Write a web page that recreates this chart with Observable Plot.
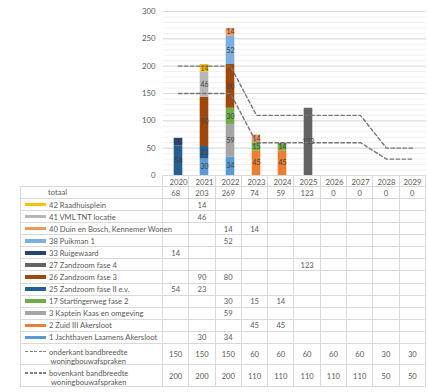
<!DOCTYPE html>
<html><head><meta charset="utf-8">
<script src="https://cdn.jsdelivr.net/npm/d3@7"></script>
<script src="https://cdn.jsdelivr.net/npm/@observablehq/plot@0.6"></script>
<style>
html,body{margin:0;padding:0;background:#fff;}
#wrap{position:relative;width:428px;height:392px;overflow:hidden;font-family:Lato,"Open Sans",sans-serif;}
#wrap svg{position:absolute;left:0;top:0;}
#tbl{position:absolute;left:20px;top:175px;display:grid;grid-template-columns:143px repeat(10,26.3px);
  grid-template-rows:12px 12px repeat(12,12.08px) 21.5px 21.5px;font-size:7.6px;color:#595959;}
.c{position:relative;box-sizing:border-box;border-right:1px solid #d9d9d9;border-bottom:1px solid #d9d9d9;display:flex;align-items:center;justify-content:center;white-space:nowrap;}
.lab{justify-content:flex-start;padding-left:4px;border-left:1px solid #d9d9d9;}
.sw{display:inline-block;width:21px;height:3.5px;margin-right:3px;flex:none;}
.totxt{position:absolute;left:27px;top:0;line-height:11px;}
.dash{display:inline-block;width:21px;height:1.4px;margin-right:3px;flex:none;
  background:repeating-linear-gradient(90deg,#7f7f7f 0 3px,transparent 3px 4.5px);}
.two{align-items:flex-start;padding-top:4px;}
.two .dash{margin-top:3px;}
.tl{text-align:center;line-height:9px;}
</style></head>
<body><div id="wrap"></div>
<script>
const years = [2020, 2021, 2022, 2023, 2024, 2025, 2026, 2027, 2028, 2029];

// series values per year (null = no value)
const jachthaven   = [null, 30, 34, null, null, null, null, null, null, null]; // 1
const zuidIII      = [null, null, null, 45, 45, null, null, null, null, null]; // 2
const kapteinKaas  = [null, null, 59, null, null, null, null, null, null, null]; // 3
const startinger   = [null, null, 30, 15, 14, null, null, null, null, null];   // 17
const zandzoomII   = [54, 23, null, null, null, null, null, null, null, null]; // 25
const zandzoom3    = [null, 90, 80, null, null, null, null, null, null, null]; // 26
const zandzoom4    = [null, null, null, null, null, 123, null, null, null, null]; // 27
const ruigewaard   = [14, null, null, null, null, null, null, null, null, null]; // 33
const puikman      = [null, null, 52, null, null, null, null, null, null, null]; // 38
const duinBosch    = [null, null, 14, 14, null, null, null, null, null, null]; // 40
const vmlTnt       = [null, 46, null, null, null, null, null, null, null, null]; // 41
const raadhuis     = [null, 14, null, null, null, null, null, null, null, null]; // 42

const totaal    = [68, 203, 269, 74, 59, 123, 0, 0, 0, 0];
const onderkant = [150, 150, 150, 60, 60, 60, 60, 60, 30, 30];
const bovenkant = [200, 200, 200, 110, 110, 110, 110, 110, 50, 50];

const seriesNames = [
  "1 Jachthaven Laamens Akersloot", "2 Zuid III Akersloot", "3 Kaptein Kaas en omgeving",
  "17 Startingerweg fase 2", "25 Zandzoom fase II e.v.", "26 Zandzoom fase 3",
  "27 Zandzoom fase 4", "33 Ruigewaard", "38 Puikman 1",
  "40 Duin en Bosch, Kennemer Wonen", "41 VML TNT locatie", "42 Raadhuisplein"
];
const seriesValues = [jachthaven, zuidIII, kapteinKaas, startinger, zandzoomII, zandzoom3,
  zandzoom4, ruigewaard, puikman, duinBosch, vmlTnt, raadhuis];
const seriesColors = ["#5B9BD5", "#ED7D31", "#A5A5A5", "#70AD47", "#255E91", "#9E480E",
  "#636363", "#264478", "#7CAFDD", "#F1975A", "#B7B7B7", "#FFC000"];
const lineNames = ["onderkant bandbreedte\nwoningbouwafspraken", "bovenkant bandbreedte\nwoningbouwafspraken"];

// long data for stacking (input order = stacking order bottom→top)
const long = [];
seriesNames.forEach((name, i) => seriesValues[i].forEach((v, j) => {
  if (v != null) long.push({year: years[j], series: name, value: v});
}));
const bands = years.map((y, j) => ({year: y, onder: onderkant[j], boven: bovenkant[j]}));

const chart = Plot.plot({
  width: 428, height: 188,
  marginTop: 11, marginBottom: 13, marginLeft: 163, marginRight: 2,
  style: {background: "transparent", fontFamily: "Lato, 'Open Sans', sans-serif", fontSize: "7.8px", color: "#595959"},
  x: {type: "band", domain: years, padding: 0, tickSize: 0, tickPadding: 4, label: null, tickFormat: d => String(d)},
  y: {domain: [0, 300], ticks: d3.range(0, 301, 50), tickSize: 0, tickPadding: 8, label: null},
  color: {domain: seriesNames, range: seriesColors},
  marks: [
    Plot.ruleY(d3.range(10, 301, 10), {stroke: "#f0f0f0"}),
    Plot.ruleY(d3.range(0, 301, 50), {stroke: "#d9d9d9"}),
    Plot.barY(long, {x: "year", y: "value", fill: "series", insetLeft: 8.7, insetRight: 8.7}),
    Plot.text(long, Plot.stackY({x: "year", y: "value", text: d => String(d.value), fill: "#404040", fontSize: 6.8})),
    Plot.line(bands, {x: "year", y: "onder", stroke: "#767676", strokeWidth: 1.4, strokeDasharray: "3.5,2.5"}),
    Plot.line(bands, {x: "year", y: "boven", stroke: "#767676", strokeWidth: 1.4, strokeDasharray: "3.5,2.5"})
  ]
});
const wrap = document.getElementById("wrap");
wrap.appendChild(chart);

// data table
const tbl = document.createElement("div");
tbl.id = "tbl";
function cell(cls, html) {
  const d = document.createElement("div");
  d.className = "c " + cls;
  d.innerHTML = html;
  tbl.appendChild(d);
  return d;
}
// header row (years drawn by the chart axis)
const h0 = cell("", "");
h0.style.borderRight = "1px solid #d9d9d9";
years.forEach(() => cell("", ""));
// totaal
cell("lab", '<span class="totxt">totaal</span>');
totaal.forEach(v => cell("", String(v)));
// series rows, top to bottom = reverse stacking order
for (let i = seriesNames.length - 1; i >= 0; i--) {
  cell("lab", `<span class="sw" style="background:${seriesColors[i]}"></span>${seriesNames[i]}`);
  seriesValues[i].forEach(v => cell("", v == null ? "" : String(v)));
}
[onderkant, bovenkant].forEach((arr, k) => {
  cell("lab two", `<span class="dash"></span><span class="tl">${lineNames[k].replace("\n", "<br>")}</span>`);
  arr.forEach(v => cell("", String(v)));
});
wrap.appendChild(tbl);
</script>
</body></html>
